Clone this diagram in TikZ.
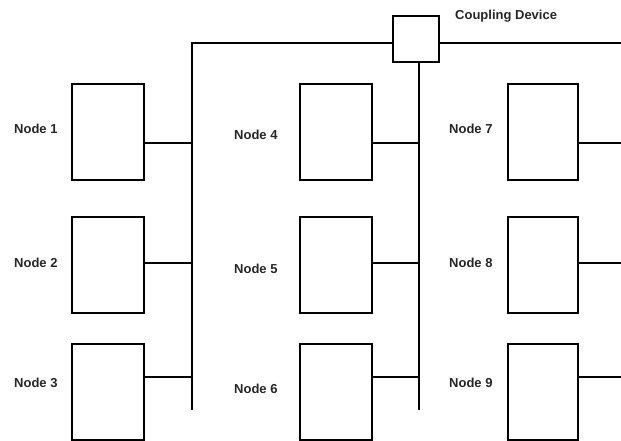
\documentclass[tikz,border=0pt]{standalone}
\usepackage{fontspec}
\setmainfont{Liberation Sans}
\begin{document}
\begin{tikzpicture}[x=1pt,y=-1pt,
  dev/.style={draw=black,line width=2pt,fill=white,minimum width=72pt,minimum height=96pt,inner sep=0pt,anchor=north west},
  lbl/.style={font=\bfseries\fontsize{13}{15}\selectfont,text=black!85,anchor=west,inner sep=0pt},
  wire/.style={draw=black,line width=2pt}]
\useasboundingbox (0,0) rectangle (621,441);
% buses
\coordinate (bl) at (192,43);
\coordinate (bre) at (621,43);
\coordinate (blb) at (192,410);
\coordinate (bmb) at (419,410);
\node[draw=black,line width=2pt,fill=white,minimum width=46pt,minimum height=46pt,inner sep=0pt] (cd) at (416,39) {};
\draw[wire] (blb) -- (bl) -- (cd.west |- bl);
\draw[wire] (cd.east |- bre) -- (bre);
\draw[wire] (cd.south -| bmb) -- (bmb);
\node[lbl] (cdl) at (455,16) {Coupling Device};
% nodes
\node[dev] (n1) at (71,83) {};
\node[dev] (n2) at (71,216) {};
\node[dev] (n3) at (71,343) {};
\node[dev] (n4) at (299,83) {};
\node[dev] (n5) at (299,216) {};
\node[dev] (n6) at (299,343) {};
\node[dev,minimum width=70pt] (n7) at (507,83) {};
\node[dev,minimum width=70pt] (n8) at (507,216) {};
\node[dev,minimum width=70pt] (n9) at (507,343) {};
% labels
\node[lbl] (l1) at (14,129) {Node 1};
\node[lbl] (l2) at (14,263) {Node 2};
\node[lbl] (l3) at (14,383) {Node 3};
\node[lbl] (l4) at (234,135) {Node 4};
\node[lbl] (l5) at (234,269) {Node 5};
\node[lbl] (l6) at (234,389) {Node 6};
\node[lbl] (l7) at (449,129) {Node 7};
\node[lbl] (l8) at (449,263) {Node 8};
\node[lbl] (l9) at (449,383) {Node 9};
% junctions
\coordinate (j1) at (192,143);
\coordinate (j2) at (192,263);
\coordinate (j3) at (192,377);
\coordinate (j4) at (419,143);
\coordinate (j5) at (419,263);
\coordinate (j6) at (419,377);
\coordinate (j7) at (621,143);
\coordinate (j8) at (621,263);
\coordinate (j9) at (621,377);
\foreach \i in {1,...,9}{
  \draw[wire] (n\i.east |- j\i) -- (j\i);
}
\end{tikzpicture}
\end{document}
